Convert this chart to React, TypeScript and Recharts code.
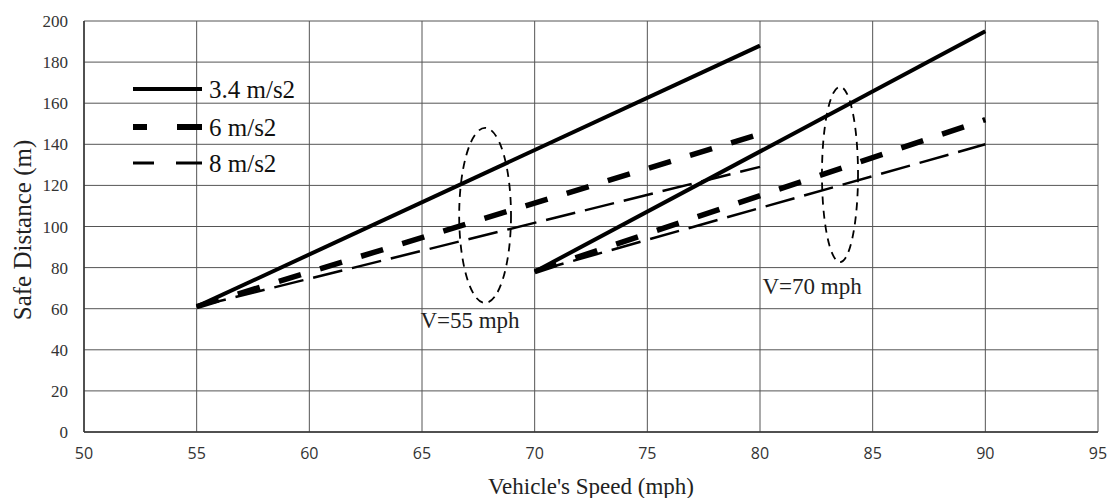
import React from "react";
import {
  LineChart,
  Line,
  XAxis,
  YAxis,
  CartesianGrid,
  Legend,
  ReferenceArea,
  ReferenceDot,
  Label,
} from "recharts";

// speeds where each family of curves starts / ends
const speedsV55 = [55, 80];
const speedsV70 = [70, 90];

// safe distance (m) per deceleration
const v55Decel34 = [61, 188];
const v55Decel6 = [61, 145];
const v55Decel8 = [61, 129];
const v70Decel34 = [78, 195];
const v70Decel6 = [78, 152];
const v70Decel8 = [78, 140];

const xTicks = [50, 55, 60, 65, 70, 75, 80, 85, 90, 95];
const yTicks = [0, 20, 40, 60, 80, 100, 120, 140, 160, 180, 200];

const legendNames = ["3.4 m/s2", "6 m/s2", "8 m/s2"];

// annotation ellipses: [x1, x2, y1, y2] and labels [x, y, text]
const ellipse55 = [66.65, 68.95, 62.8, 148];
const ellipse70 = [82.75, 84.35, 82.7, 168];
const label55 = { x: 67.13, y: 54.5, text: "V=55 mph" };
const label70 = { x: 82.31, y: 70.6, text: "V=70 mph" };

const toPoints = (xs: number[], ys: number[]) => xs.map((x, i) => ({ x, y: ys[i] }));

const serif = "'Liberation Serif', 'Times New Roman', serif";

const styles = {
  solid: { stroke: "#000", strokeWidth: 4, strokeDasharray: undefined as string | undefined },
  thick: { stroke: "#000", strokeWidth: 5.5, strokeDasharray: "23 20" },
  thin: { stroke: "#000", strokeWidth: 2.5, strokeDasharray: "30 10" },
};

const series = [
  { key: "v55-34", data: toPoints(speedsV55, v55Decel34), style: styles.solid },
  { key: "v55-6", data: toPoints(speedsV55, v55Decel6), style: styles.thick },
  { key: "v55-8", data: toPoints(speedsV55, v55Decel8), style: styles.thin },
  { key: "v70-34", data: toPoints(speedsV70, v70Decel34), style: styles.solid },
  { key: "v70-6", data: toPoints(speedsV70, v70Decel6), style: styles.thick },
  { key: "v70-8", data: toPoints(speedsV70, v70Decel8), style: styles.thin },
];

function EllipseShape(props: any) {
  const { x, y, width, height } = props;
  return (
    <ellipse
      cx={x + width / 2}
      cy={y + height / 2}
      rx={width / 2}
      ry={height / 2}
      fill="none"
      stroke="#000"
      strokeWidth={1.8}
      strokeDasharray="8 6"
    />
  );
}

function TextMark({ cx, cy, text }: any) {
  return (
    <text x={cx} y={cy} textAnchor="middle" dominantBaseline="central" fontFamily={serif} fontSize={23} fill="#222">
      {text}
    </text>
  );
}

function LegendBox() {
  const rows = [
    { name: legendNames[0], w: 4, dash: undefined, y: 19 },
    { name: legendNames[1], w: 6, dash: "14 30 30", y: 57 },
    { name: legendNames[2], w: 2.8, dash: "21 22 30", y: 93 },
  ];
  return (
    <svg width={260} height={110}>
      {rows.map((r) => (
        <g key={r.name}>
          <line x1={8} x2={77} y1={r.y} y2={r.y} stroke="#000" strokeWidth={r.w} strokeDasharray={r.dash} />
          <text x={84} y={r.y + 9} fontFamily={serif} fontSize={25} fill="#111">
            {r.name}
          </text>
        </g>
      ))}
    </svg>
  );
}

export default function App() {
  return (
    <div style={{ position: "absolute", left: 0, top: 0, background: "#fff" }}>
      <LineChart width={1107} height={498} margin={{ top: 21, right: 9, bottom: 6, left: 0 }}>
        <CartesianGrid stroke="#555" strokeWidth={1} />
        <XAxis
          type="number"
          dataKey="x"
          domain={[50, 95]}
          ticks={xTicks}
          height={60}
          tickSize={0}
          tickMargin={16}
          axisLine={{ stroke: "#333", strokeWidth: 1.5 }}
          tick={{ fontSize: 16, fontFamily: "'Open Sans', sans-serif", fill: "#333" }}
        >
          <Label
            content={({ viewBox }: any) => (
              <text
                x={viewBox.x + viewBox.width / 2}
                y={viewBox.y + 62}
                textAnchor="middle"
                fontFamily={serif}
                fontSize={23}
                fill="#222"
              >
                Vehicle's Speed (mph)
              </text>
            )}
          />
        </XAxis>
        <YAxis
          type="number"
          domain={[0, 200]}
          ticks={yTicks}
          width={84}
          tickSize={0}
          tickMargin={16}
          axisLine={{ stroke: "#333", strokeWidth: 1.5 }}
          tick={{ fontSize: 17, fontFamily: serif, fill: "#333" }}
        >
          <Label
            content={({ viewBox }: any) => {
              const cx = viewBox.x + 31;
              const cy = 230;
              return (
                <text
                  x={cx}
                  y={cy}
                  transform={`rotate(-90, ${cx}, ${cy})`}
                  textAnchor="middle"
                  fontFamily={serif}
                  fontSize={25}
                  fill="#222"
                >
                  Safe Distance (m)
                </text>
              );
            }}
          />
        </YAxis>
        <Legend
          layout="vertical"
          align="center"
          verticalAlign="middle"
          wrapperStyle={{ left: 125, top: 70, width: 260, height: 110 }}
          content={() => <LegendBox />}
        />
        {series.map((s) => (
          <Line
            key={s.key}
            data={s.data}
            dataKey="y"
            type="linear"
            stroke={s.style.stroke}
            strokeWidth={s.style.strokeWidth}
            strokeDasharray={s.style.strokeDasharray}
            dot={false}
            activeDot={false}
            legendType="none"
            isAnimationActive={false}
          />
        ))}
        <ReferenceArea
          x1={ellipse55[0]}
          x2={ellipse55[1]}
          y1={ellipse55[2]}
          y2={ellipse55[3]}
          shape={<EllipseShape />}
        />
        <ReferenceArea
          x1={ellipse70[0]}
          x2={ellipse70[1]}
          y1={ellipse70[2]}
          y2={ellipse70[3]}
          shape={<EllipseShape />}
        />
        <ReferenceDot x={label55.x} y={label55.y} r={0} shape={<TextMark text={label55.text} />} />
        <ReferenceDot x={label70.x} y={label70.y} r={0} shape={<TextMark text={label70.text} />} />
      </LineChart>
    </div>
  );
}
